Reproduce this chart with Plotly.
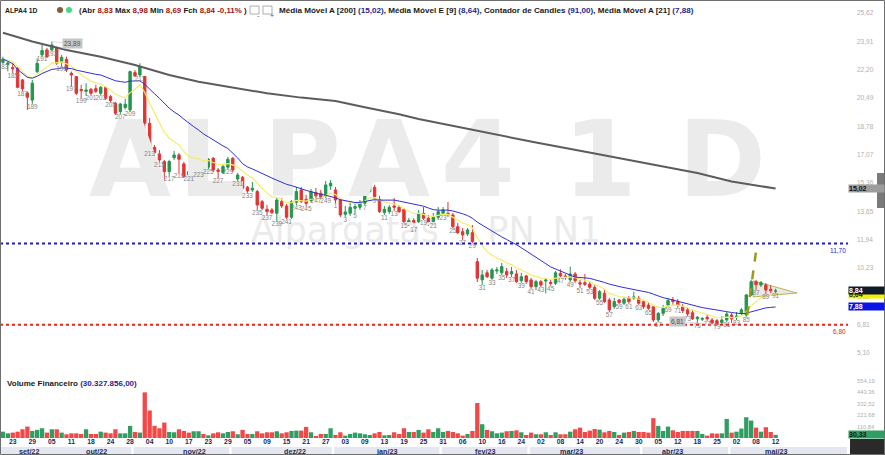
import pandas as pd
import plotly.graph_objects as go

# ALPA4 daily candles, 21/09/2022 .. 12/05/2023 (B3 sessions)
HOLIDAYS = ["2022-10-12", "2022-11-02", "2022-11-15", "2022-12-30",
            "2023-02-20", "2023-02-21", "2023-04-07", "2023-04-21", "2023-05-01"]
dates = pd.bdate_range("2022-09-21", "2023-05-12", freq="C", holidays=HOLIDAYS)

opens = [
    22.64, 22.50, 22.32, 22.30, 21.58, 20.79, 20.36, 22.08, 23.09, 23.39, 23.39, 23.53,
    22.68, 22.82, 21.98, 21.78, 21.00, 20.89, 21.01, 21.05, 20.77, 21.13,
    20.57, 20.17, 19.67, 19.91, 19.77, 22.02, 21.88, 21.78, 18.96, 17.51,
    17.11, 16.65, 16.04, 16.88, 17.05, 16.51, 16.04, 16.04, 16.45, 16.51,
    16.31, 16.85, 16.14, 15.98, 16.31, 16.85, 15.60, 15.70, 15.10, 14.94,
    14.84, 14.23, 13.77, 13.73, 13.53, 14.23, 13.97, 13.29, 14.19, 14.94,
    14.37, 14.29, 14.78, 14.74, 14.58, 15.18, 14.94, 14.33, 13.47, 13.53,
    13.83, 13.89, 14.13, 14.84, 15.10, 14.37, 13.57, 13.63, 13.97, 13.89,
    13.77, 12.88, 13.09, 13.02, 13.53, 13.23, 13.02, 13.29, 13.53, 13.53,
    13.43, 12.72, 12.42, 12.28, 12.36, 10.61, 9.51, 9.94, 9.61, 10.05,
    9.94, 10.01, 9.87, 9.87, 9.46, 9.75, 9.51, 9.10, 9.40, 9.44,
    9.36, 9.30, 9.91, 9.75, 9.51, 9.87, 9.34, 9.34, 9.26, 9.06,
    8.40, 8.70, 8.30, 7.89, 8.30, 8.10, 8.40, 8.40, 8.40, 8.20,
    7.99, 7.89, 7.09, 7.49, 7.99, 8.30, 8.20, 7.89, 7.70, 7.53,
    7.16, 7.13, 7.25, 7.09, 7.05, 6.93, 7.09, 7.39, 7.29, 7.49,
    7.39, 8.60, 9.40, 9.20, 9.20, 8.94, 8.83,
]
highs = [
    22.98, 22.70, 22.58, 22.36, 21.64, 20.85, 21.58, 22.88, 23.69, 23.51, 23.89, 23.59,
    23.08, 22.98, 22.08, 21.82, 21.28, 21.38, 21.09, 21.28, 21.21, 21.17,
    20.67, 20.25, 20.19, 20.43, 22.14, 22.18, 22.58, 21.82, 19.28, 17.65,
    17.35, 16.75, 16.75, 17.29, 17.17, 16.63, 16.14, 16.51, 16.93, 16.63,
    16.87, 16.93, 16.26, 16.51, 16.93, 16.93, 15.96, 15.78, 15.18, 15.42,
    14.94, 14.33, 14.03, 13.85, 14.45, 14.45, 14.09, 14.33, 15.12, 15.12,
    14.64, 15.00, 15.06, 14.94, 15.48, 15.54, 15.12, 14.45, 13.97, 14.15,
    14.15, 14.33, 15.00, 15.42, 15.24, 14.58, 13.97, 14.03, 14.45, 14.03,
    13.85, 13.25, 13.23, 13.73, 13.91, 13.43, 13.55, 13.91, 13.91, 14.21,
    13.55, 12.94, 12.64, 12.64, 12.82, 10.83, 10.11, 10.11, 10.23, 10.29,
    10.53, 10.23, 10.29, 10.11, 9.93, 9.81, 9.63, 9.51, 9.51, 9.63,
    9.51, 10.05, 10.15, 9.87, 10.31, 9.99, 9.51, 9.87, 9.38, 9.20,
    8.90, 8.90, 8.42, 8.42, 8.36, 8.48, 8.54, 8.80, 8.54, 8.30,
    8.12, 8.00, 7.57, 8.00, 8.42, 8.48, 8.36, 8.06, 7.82, 7.70,
    7.33, 7.27, 7.45, 7.21, 7.15, 7.33, 7.57, 7.51, 7.57, 7.82,
    8.66, 9.51, 9.51, 9.44, 9.32, 9.20, 8.98,
]
lows = [
    22.54, 22.10, 22.00, 21.07, 20.91, 19.77, 20.13, 21.99, 22.98, 22.90, 23.33, 22.48,
    22.38, 22.06, 21.17, 20.67, 20.47, 20.61, 20.67, 20.79, 20.67, 20.37,
    20.21, 19.46, 19.52, 19.79, 19.66, 21.76, 21.78, 18.56, 17.25, 17.17,
    16.63, 15.50, 15.78, 16.75, 15.96, 15.66, 15.78, 15.96, 16.02, 16.08,
    16.20, 16.02, 15.66, 15.90, 16.20, 16.02, 15.48, 14.94, 14.76, 14.82,
    13.73, 13.73, 13.43, 13.49, 13.03, 13.85, 13.19, 13.19, 14.03, 14.15,
    13.97, 14.21, 14.45, 14.39, 14.45, 14.94, 14.15, 13.31, 13.31, 13.37,
    13.55, 13.73, 14.03, 14.76, 14.45, 13.55, 13.43, 13.49, 13.67, 13.55,
    12.94, 12.76, 12.69, 12.94, 13.13, 12.76, 12.94, 13.13, 13.43, 13.31,
    12.64, 12.28, 11.92, 12.16, 11.74, 9.38, 9.20, 9.63, 9.51, 9.87,
    9.81, 9.63, 9.69, 9.33, 9.33, 9.26, 8.96, 8.90, 9.08, 8.70,
    9.14, 9.20, 9.63, 9.51, 9.38, 9.33, 9.02, 9.14, 8.96, 8.30,
    8.30, 8.12, 7.57, 7.76, 8.06, 8.00, 8.06, 8.30, 8.00, 7.76,
    7.70, 6.97, 6.97, 7.33, 7.88, 8.00, 7.82, 7.51, 7.33, 7.09,
    6.91, 7.03, 7.03, 6.85, 6.81, 6.85, 6.97, 6.91, 7.09, 7.39,
    7.27, 8.54, 8.90, 9.08, 8.66, 8.72, 8.69,
]
closes = [
    22.84, 22.60, 22.25, 21.13, 21.04, 20.53, 21.38, 22.58, 23.35, 22.98, 23.69, 22.58,
    22.94, 22.18, 21.88, 20.77, 20.93, 20.97, 20.77, 20.89, 21.13, 20.47,
    20.33, 19.57, 20.13, 20.11, 22.08, 21.82, 22.38, 18.96, 17.55, 17.19,
    16.75, 16.04, 16.65, 17.05, 16.79, 15.74, 15.84, 16.45, 16.59, 16.19,
    16.79, 16.14, 16.06, 16.35, 16.79, 16.14, 15.84, 15.04, 14.88, 15.04,
    14.03, 13.83, 13.63, 13.57, 14.33, 13.97, 13.29, 14.23, 14.84, 14.23,
    14.13, 14.84, 14.58, 14.50, 15.24, 15.34, 14.33, 13.43, 13.61, 13.89,
    13.93, 14.13, 14.84, 15.24, 14.54, 13.63, 13.77, 13.89, 13.89, 13.63,
    13.02, 13.09, 12.94, 13.53, 13.23, 12.92, 13.29, 13.63, 13.73, 13.43,
    12.72, 12.36, 12.22, 12.52, 11.82, 9.61, 9.81, 9.70, 10.11, 10.11,
    10.31, 9.81, 10.01, 9.40, 9.70, 9.40, 9.10, 9.40, 9.20, 9.50,
    9.30, 9.94, 9.75, 9.67, 9.87, 9.46, 9.26, 9.24, 9.06, 8.40,
    8.80, 8.20, 7.70, 8.20, 8.14, 8.34, 8.20, 8.48, 8.10, 7.89,
    7.79, 7.09, 7.49, 7.79, 8.26, 8.20, 8.00, 7.65, 7.45, 7.16,
    7.26, 7.18, 7.16, 6.90, 6.83, 7.09, 7.45, 7.15, 7.32, 7.70,
    8.60, 9.40, 9.22, 9.34, 8.90, 8.85, 8.84,
]
# financial volume, R$ millions
volumes = [
    61, 45, 52, 61, 84, 110, 68, 78, 94, 52, 84, 84,
    52, 36, 45, 45, 39, 84, 39, 39, 61, 52,
    45, 84, 45, 45, 117, 58, 52, 440, 265, 117,
    94, 149, 58, 55, 84, 68, 52, 65, 65, 39,
    26, 45, 55, 45, 58, 65, 36, 78, 39, 39,
    65, 45, 55, 55, 65, 45, 55, 68, 71, 71,
    107, 55, 19, 39, 39, 94, 29, 55, 23, 39,
    52, 45, 36, 29, 45, 58, 26, 29, 55, 39,
    94, 58, 58, 78, 52, 84, 58, 94, 58, 68,
    58, 45, 23, 39, 68, 337, 133, 78, 65, 45,
    52, 65, 68, 74, 55, 29, 52, 36, 36, 55,
    29, 55, 36, 36, 61, 84, 100, 58, 71, 87,
    81, 55, 68, 58, 29, 52, 58, 68, 58, 58,
    52, 191, 117, 68, 110, 74, 58, 68, 68, 68,
    68, 39, 23, 45, 42, 45, 184, 52, 61, 91,
    200, 168, 100, 61, 104, 58, 30.327856,
]

# 200-period SMA (session index, value)
ma200_at = [0, 6, 13, 20, 27, 34, 40, 47, 54, 61, 68, 74, 81, 85, 97, 109, 121, 133, 142, 149, 158]
ma200_val = [24.42, 23.90, 23.39, 22.98, 22.48, 21.88, 21.47, 21.13, 20.77, 20.51, 20.31,
             19.93, 19.51, 19.22, 18.50, 17.80, 17.14, 16.45, 15.96, 15.45, 15.02]

# user drawings
pennant_x = [153.4, 162.4, 153.4]
pennant_y = [9.45, 8.72, 8.48]
pole_x = [152.2, 154.2]
pole_y = [7.39, 11.66]
resistance = 11.70
support = 6.80

price_ticks = [5.10, 6.81, 8.52, 10.23, 11.94, 13.65, 15.36, 17.07, 18.78, 20.49, 22.20, 23.91, 25.62]
vol_ticks = [110.84, 221.68, 332.52, 443.36, 554.19]

PT_MONTHS = ["jan", "fev", "mar", "abr", "mai", "jun", "jul", "ago", "set", "out", "nov", "dez"]

n = len(dates)
assert all(len(a) == n for a in (opens, highs, lows, closes, volumes))
x = list(range(n))


def br(v, d=2):
    """Brazilian number format: 30.327.856,00"""
    return f"{v:,.{d}f}".replace(",", "X").replace(".", ",").replace("X", ".")


# ── layout geometry (pixels) ────────────────────────────────────────────
W, H = 885, 455
PLOT_W = 848
MT, MB = 4, 17
PH = H - MT - MB
X_RANGE = [-0.6, 172.8]
P_RANGE = [3.95, 26.16]
V_RANGE = [0, 607.2]
PRICE_DOM = [(H - MB - 372) / PH, 1]
VOL_DOM = [0, (H - MB - 375) / PH]


def pxx(px):
    return px / PLOT_W


def pxy(py):
    return (H - MB - py) / PH


def xfrac(xv):
    """session index -> paper x"""
    return (xv - X_RANGE[0]) / (X_RANGE[1] - X_RANGE[0])


def slot(px):
    """pixel column -> session index (watermark placement)"""
    return X_RANGE[0] + px / PLOT_W * (X_RANGE[1] - X_RANGE[0])


GREEN = "#24964f"
RED = "#e23434"
VGREEN = "#2f9e62"
VRED = "#f24848"
NAVY = "#1c2a5c"
WM = "#ebebeb"

s = pd.Series(closes)
ema9 = s.ewm(span=9, adjust=False).mean()
ma21 = s.rolling(21, min_periods=1).mean()

up = [c >= o for o, c in zip(opens, closes)]
counters = [183 + i if i < 68 else i - 67 for i in range(n)]

fig = go.Figure()

# watermark, drawn as text traces so it sits behind the candles (letter-spaced)
wm_chars = [("A", 130), ("L", 212), ("P", 302), ("A", 389), ("4", 478), ("1", 600), ("D", 722)]
fig.add_trace(go.Scatter(
    x=[slot(p) for _, p in wm_chars], y=[16.15] * len(wm_chars), mode="text",
    text=[ch for ch, _ in wm_chars],
    textfont=dict(family="DejaVu Sans", size=106, color=WM, weight="bold"),
    hoverinfo="skip",
))
wm_words = [("Alpargatas", 345), ("PN", 511), ("N1", 577)]
fig.add_trace(go.Scatter(
    x=[slot(p) for _, p in wm_words], y=[12.33] * len(wm_words), mode="text",
    text=[w for w, _ in wm_words],
    textfont=dict(family="DejaVu Sans", size=35, color=WM),
    hoverinfo="skip",
))

fig.add_trace(go.Scatter(x=ma200_at, y=ma200_val, mode="lines",
                         line=dict(color="#5c5c5c", width=2), hoverinfo="skip"))
fig.add_trace(go.Scatter(x=x, y=ema9, mode="lines",
                         line=dict(color="#f3ee6a", width=1.2), hoverinfo="skip"))
fig.add_trace(go.Scatter(x=x, y=ma21, mode="lines",
                         line=dict(color="#2f2fd8", width=1), hoverinfo="skip"))

fig.add_trace(go.Candlestick(
    x=x, open=opens, high=highs, low=lows, close=closes,
    increasing=dict(line=dict(color=GREEN, width=1), fillcolor=GREEN),
    decreasing=dict(line=dict(color=RED, width=1), fillcolor=RED),
    whiskerwidth=0, hoverinfo="skip",
))

# candle counter under every other candle
lab_x = [i for i in x if counters[i] % 2 == 1]
fig.add_trace(go.Scatter(
    x=lab_x, y=[lows[i] for i in lab_x], mode="text",
    text=[str(counters[i]) for i in lab_x], textposition="bottom center",
    textfont=dict(family="Liberation Sans", size=6.4, color="#858585"),
    hoverinfo="skip", cliponaxis=False,
))

fig.add_trace(go.Bar(
    x=x, y=volumes, yaxis="y2",
    marker=dict(color=[VGREEN if u else VRED for u in up], line=dict(width=0)),
    hoverinfo="skip",
))

shapes = []
annotations = []

# pennant + flag pole
shapes.append(dict(
    type="path", xref="x", yref="y", layer="below",
    path="M {} {} L {} {} L {} {} Z".format(pennant_x[0], pennant_y[0], pennant_x[1],
                                              pennant_y[1], pennant_x[2], pennant_y[2]),
    fillcolor="rgba(215,215,200,0.55)", line=dict(color="#b9b45c", width=1),
))
shapes.append(dict(type="line", xref="x", yref="y", x0=pole_x[0], y0=pole_y[0],
                   x1=pole_x[1], y1=pole_y[1], line=dict(color="#9c9a1c", width=2.5, dash="dash")))

# horizontal levels
for lvl, col in ((resistance, "#1a1ad2"), (support, "#e8241c")):
    shapes.append(dict(type="line", xref="paper", yref="y", x0=0, x1=1, y0=lvl, y1=lvl,
                       line=dict(color=col, width=2, dash="dot")))
    annotations.append(dict(xref="paper", yref="y", x=1, y=lvl, xanchor="right", yanchor="top",
                            yshift=-1, text=br(lvl), showarrow=False,
                            font=dict(family="Liberation Sans", size=6.5, color=col)))

# month bands under the date axis
starts = [i for i in range(n) if i == 0 or dates[i].month != dates[i - 1].month]
bounds = [X_RANGE[0]] + [st - 1.5 for st in starts[1:]] + [X_RANGE[1]]
for k, st in enumerate(starts):
    x0, x1 = bounds[k], bounds[k + 1]
    shapes.append(dict(type="rect", xref="paper", yref="paper", x0=xfrac(x0 + 0.25),
                       x1=xfrac(x1 - 0.25), y0=pxy(455), y1=pxy(447),
                       fillcolor="#e3e7ef", line=dict(width=0)))
    annotations.append(dict(
        xref="paper", yref="paper", x=xfrac((x0 + x1) / 2), y=pxy(451.5), yanchor="middle",
        showarrow=False, text=f"<b>{PT_MONTHS[dates[st].month - 1]}/{dates[st]:%y}</b>",
        font=dict(family="Liberation Sans", size=7.2, color=NAVY),
    ))

# max / min markers
i_hi = max(x, key=lambda i: highs[i])
i_lo = min(x, key=lambda i: lows[i])
annotations.append(dict(xref="x", yref="y", x=i_hi, y=highs[i_hi], text=br(highs[i_hi]),
                        showarrow=True, arrowhead=0, arrowwidth=0.6, arrowcolor="#c8c8c8",
                        ax=21, ay=2, bgcolor="#c6c6c6", borderpad=1,
                        font=dict(family="Liberation Sans", size=6.5, color="#555555")))
annotations.append(dict(xref="x", yref="y", x=i_lo, y=lows[i_lo], text=br(lows[i_lo]),
                        showarrow=True, arrowhead=0, arrowwidth=0.6, arrowcolor="#c8c8c8",
                        ax=-39, ay=-3, bgcolor="#c6c6c6", borderpad=1,
                        font=dict(family="Liberation Sans", size=6.5, color="#555555")))

# right-hand value tags (last one drawn on top)
last_vol = volumes[-1]
tags = [
    ("y", ma200_val[-1], "#9d9d9d", "#111111"),
    ("y", ema9.iloc[-1], "#f2f200", "#333333"),
    ("y", ma21.iloc[-1], "#0a14e6", "#ffffff"),
    ("y", closes[-1], "#0f1a2b", "#ffffff"),
    ("y2", last_vol, "#2f9e62", "#0b220f"),
]
for yref, val, bg, fg in tags:
    annotations.append(dict(xref="paper", yref=yref, x=1, y=val, xanchor="left", xshift=0,
                            text=f"<b>{br(val)}</b>", showarrow=False, bgcolor=bg, borderpad=0,
                            width=35, height=7, align="left", valign="middle",
                            font=dict(family="Liberation Sans", size=7, color=fg)))

# small scroll handle and dark corner on the right
shapes.append(dict(type="rect", xref="paper", yref="paper", x0=pxx(877), x1=pxx(885),
                   y0=pxy(208), y1=pxy(173), fillcolor="#7a7a7a", line=dict(width=0)))
shapes.append(dict(type="rect", xref="paper", yref="paper", x0=pxx(850), x1=pxx(885),
                   y0=pxy(455), y1=pxy(439), fillcolor="#2a2a2a", line=dict(width=0)))

# header
o, h, l, c = opens[-1], highs[-1], lows[-1], closes[-1]
chg = (c / closes[-2] - 1) * 100


def val(v, col):
    return f"<span style='color:{col}'>{v}</span>"


DR = "#a31212"
BL = "#1f1f90"
header = [
    (3, 6.8, "<b>ALPA4 1D</b>"),
    (77, 7.9, "<b>(Abr " + val(br(o), DR) + " Máx " + val(br(h), DR) + " Min " + val(br(l), DR)
     + " Fch " + val(br(c) + " " + br(chg) + "%", DR) + " )</b>"),
    (277, 8.1, "<b>Média Móvel A [200] " + val(f"({br(ma200_val[-1])})", BL)
     + ", Média Móvel E [9] " + val(f"({br(ema9.iloc[-1])})", BL)
     + ", Contador de Candles " + val(f"({br(counters[-1])})", BL)
     + ", Média Móvel A [21] " + val(f"({br(ma21.iloc[-1])})", BL) + "</b>"),
]
for px, fs, txt in header:
    annotations.append(dict(xref="paper", yref="paper", x=pxx(px), y=pxy(10), xanchor="left",
                            yanchor="middle", text=txt, showarrow=False,
                            font=dict(family="Liberation Sans", size=fs, color="#1a1a1a")))
shapes.append(dict(type="circle", xref="paper", yref="paper", x0=pxx(57), x1=pxx(63),
                   y0=pxy(13), y1=pxy(7), fillcolor="#8a5a3a", line=dict(width=0)))
shapes.append(dict(type="circle", xref="paper", yref="paper", x0=pxx(66), x1=pxx(72),
                   y0=pxy(13), y1=pxy(7), fillcolor="#3fdc86", line=dict(width=0)))
for bx, sym in ((250, "-"), (263, "+")):
    shapes.append(dict(type="rect", xref="paper", yref="paper", x0=pxx(bx), x1=pxx(bx + 9),
                       y0=pxy(14), y1=pxy(6), fillcolor="#ffffff", line=dict(color="#9a9a9a", width=0.8)))
    annotations.append(dict(xref="paper", yref="paper", x=pxx(bx + 4.5), y=pxy(10), text=sym,
                            showarrow=False, font=dict(family="Liberation Sans", size=7, color="#555")))

annotations.append(dict(
    xref="paper", yref="paper", x=pxx(5), y=pxy(383), xanchor="left", yanchor="middle",
    text="<b>Volume Financeiro " + val(f"({br(last_vol * 1e6)})", BL) + "</b>",
    showarrow=False, font=dict(family="Liberation Sans", size=8, color="#1a1a1a"),
))

# outer frame
shapes.append(dict(type="rect", xref="paper", yref="paper", x0=pxx(0.5), x1=pxx(884.5),
                   y0=pxy(454.5), y1=pxy(0.5), line=dict(color="#6e6e6e", width=1)))

tick_idx = x[2::4]
fig.update_layout(
    width=W, height=H,
    margin=dict(l=0, r=W - PLOT_W, t=MT, b=MB),
    paper_bgcolor="#ffffff", plot_bgcolor="#ffffff",
    showlegend=False, bargap=0.12,
    shapes=shapes, annotations=annotations,
    xaxis=dict(
        range=X_RANGE, anchor="y2", showgrid=False, zeroline=False, rangeslider=dict(visible=False),
        tickvals=tick_idx, ticktext=[f"{dates[i]:%d}" for i in tick_idx], ticks="",
        tickfont=dict(family="Liberation Sans", size=6.8, color=NAVY, weight="bold"),
        ticklabelstandoff=-2,
    ),
    yaxis=dict(
        domain=PRICE_DOM, range=P_RANGE, side="right", showgrid=False, zeroline=False,
        tickvals=price_ticks, ticktext=[br(v) for v in price_ticks], ticks="",
        tickfont=dict(family="Liberation Sans", size=6.5, color="#b0b0b0"),
        ticklabelstandoff=8,
    ),
    yaxis2=dict(
        domain=VOL_DOM, range=V_RANGE, side="right", anchor="x", showgrid=False, zeroline=False,
        tickvals=vol_ticks, ticktext=[br(v) for v in vol_ticks], ticks="",
        tickfont=dict(family="Liberation Sans", size=5.8, color="#b0b0b0"),
        ticklabelstandoff=8,
    ),
)

# page has a default 8px body margin; drop it so the chart fills the window
fig.write_html("out.html", config={"displayModeBar": False},
               post_script="document.body.style.margin='0px';")
